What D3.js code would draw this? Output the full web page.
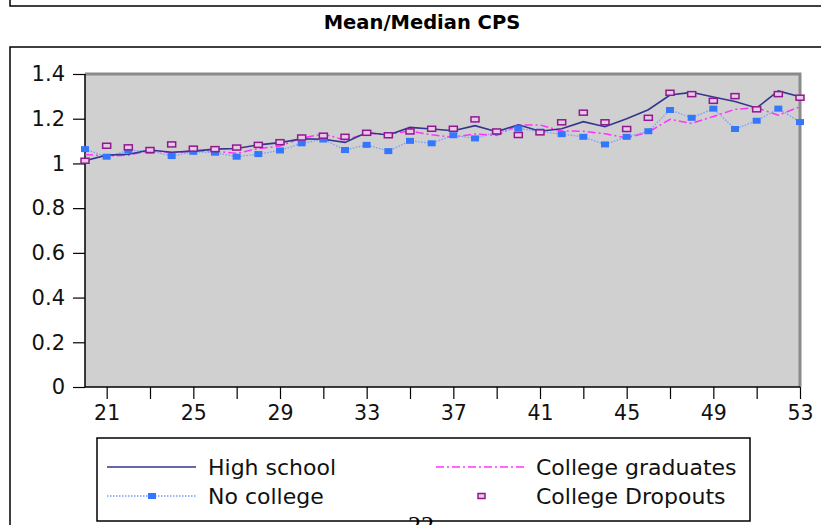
<!DOCTYPE html>
<html><head><meta charset="utf-8">
<script src="https://cdn.jsdelivr.net/npm/d3@7"></script>
<style>body{margin:0;background:#fff}svg{display:block}</style>
</head><body>
<svg id="c" width="821" height="525"></svg>
<script>
const ages = d3.range(20, 54);
const highSchool = [1.012,1.037,1.041,1.060,1.050,1.055,1.064,1.067,1.083,1.093,1.110,1.108,1.094,1.138,1.127,1.161,1.154,1.146,1.169,1.142,1.173,1.144,1.155,1.187,1.164,1.200,1.240,1.306,1.318,1.297,1.277,1.248,1.324,1.298];
const noCollege = [1.064,1.030,1.058,1.057,1.033,1.052,1.048,1.030,1.042,1.058,1.090,1.107,1.060,1.083,1.055,1.101,1.090,1.126,1.112,1.140,1.156,1.142,1.131,1.119,1.085,1.119,1.144,1.239,1.204,1.245,1.154,1.191,1.245,1.185];
const collegeGrads = [1.040,1.033,1.037,1.057,1.048,1.057,1.055,1.045,1.066,1.078,1.114,1.131,1.105,1.134,1.131,1.145,1.128,1.117,1.132,1.125,1.172,1.172,1.145,1.144,1.133,1.114,1.140,1.197,1.179,1.210,1.242,1.249,1.216,1.254];
const dropouts = [1.012,1.079,1.072,1.060,1.085,1.066,1.064,1.071,1.083,1.095,1.116,1.124,1.119,1.137,1.126,1.143,1.155,1.155,1.197,1.143,1.127,1.139,1.184,1.227,1.184,1.154,1.204,1.316,1.310,1.280,1.301,1.242,1.310,1.294];
const yTicks = [0,0.2,0.4,0.6,0.8,1,1.2,1.4];
const xTickMarks = d3.range(21, 54, 2);
const xTickLabels = [21,25,29,33,37,41,45,49,53];
const title = "Mean/Median CPS";
const legendItems = ["High school","No college","College graduates","College Dropouts"];

const svg = d3.select("#c");
const L = 85, R = 800, T = 74, B = 387;
const x = d3.scaleLinear().domain([20,53]).range([L,R]);
const y = d3.scaleLinear().domain([0,1.4]).range([B,T]);
const font = "DejaVu Sans, sans-serif";

// page frames
svg.append("path").attr("d","M10,0 V6 H830").attr("fill","none").attr("stroke","#000").attr("stroke-width",1.5);
svg.append("path").attr("d","M830,47 H10 V530").attr("fill","none").attr("stroke","#000").attr("stroke-width",1.5);

svg.append("text").attr("x",422).attr("y",29).attr("text-anchor","middle")
  .attr("font-family",font).attr("font-weight","bold").attr("font-size",19.5).text(title);

// plot background
svg.append("rect").attr("x",L).attr("y",T).attr("width",R-L).attr("height",B-T).attr("fill","#d0d0d0");
svg.append("path").attr("d",`M${L},${T} H${R} V${B}`).attr("fill","none").attr("stroke","#8a8a8a").attr("stroke-width",3);

// axes
const yAxis = svg.append("g").attr("transform",`translate(${L},0)`)
  .call(d3.axisLeft(y).tickValues(yTicks).tickFormat(d3.format("~g")).tickSize(12).tickPadding(8));
yAxis.select(".domain").attr("stroke","#000").attr("stroke-width",1.5).attr("d",`M0,${T}V${B}`);
yAxis.selectAll("line").attr("stroke","#000").attr("stroke-width",1.2);
yAxis.selectAll("text").attr("font-family",font).attr("font-size",21).attr("fill","#111");

const xAxis = svg.append("g").attr("transform",`translate(0,${B})`)
  .call(d3.axisBottom(x).tickValues(xTickMarks).tickFormat(d => xTickLabels.includes(d) ? d : "").tickSize(12).tickPadding(6));
xAxis.select(".domain").attr("stroke","#000").attr("stroke-width",1.5).attr("d",`M${L},0H${R}`);
xAxis.selectAll("line").attr("stroke","#000").attr("stroke-width",1.2);
xAxis.selectAll("text").attr("font-family",font).attr("font-size",20.5).attr("fill","#111");

const line = d3.line().x((d,i)=>x(ages[i])).y(d=>y(d));

svg.append("path").datum(collegeGrads).attr("d",line).attr("fill","none")
  .attr("stroke","#ff33ff").attr("stroke-width",1.5).attr("stroke-dasharray","8,3,2,3");
svg.append("path").datum(noCollege).attr("d",line).attr("fill","none")
  .attr("stroke","#7a9cff").attr("stroke-width",1.3).attr("stroke-dasharray","1.5,1.5");
svg.append("path").datum(highSchool).attr("d",line).attr("fill","none")
  .attr("stroke","#35358f").attr("stroke-width",1.6);

svg.append("g").selectAll("rect").data(noCollege).join("rect")
  .attr("x",(d,i)=>x(ages[i])-4).attr("y",d=>y(d)-3).attr("width",8).attr("height",6).attr("fill","#3377ff");
svg.append("g").selectAll("rect").data(dropouts).join("rect")
  .attr("x",(d,i)=>x(ages[i])-4).attr("y",d=>y(d)-2.5).attr("width",8).attr("height",5)
  .attr("fill","#e8c8e8").attr("stroke","#8e1a8e").attr("stroke-width",1.5);

// legend
const lg = svg.append("g");
lg.append("rect").attr("x",97).attr("y",438).attr("width",653).attr("height",83).attr("fill","#fff").attr("stroke","#000").attr("stroke-width",1.5);
const r1 = 467, r2 = 496;
lg.append("line").attr("x1",107).attr("x2",196).attr("y1",r1).attr("y2",r1).attr("stroke","#35358f").attr("stroke-width",1.6);
lg.append("line").attr("x1",107).attr("x2",196).attr("y1",r2).attr("y2",r2).attr("stroke","#7a9cff").attr("stroke-width",1.3).attr("stroke-dasharray","1.5,1.5");
lg.append("rect").attr("x",148).attr("y",r2-3).attr("width",8).attr("height",6).attr("fill","#3377ff");
lg.append("line").attr("x1",436).attr("x2",524).attr("y1",r1).attr("y2",r1).attr("stroke","#ff33ff").attr("stroke-width",1.5).attr("stroke-dasharray","8,3,2,3");
lg.append("rect").attr("x",478).attr("y",r2-2.5).attr("width",7).attr("height",5).attr("fill","#e8c8e8").attr("stroke","#8e1a8e").attr("stroke-width",1.5);
const lt = [[208,r1,legendItems[0]],[208,r2,legendItems[1]],[536,r1,legendItems[2]],[536,r2,legendItems[3]]];
lg.selectAll("text").data(lt).join("text").attr("x",d=>d[0]).attr("y",d=>d[1]+8)
  .attr("font-family",font).attr("font-size",22).attr("fill","#111").text(d=>d[2]);

// page number (cut off at the bottom edge, as in the reference)
svg.append("text").attr("x",421).attr("y",534).attr("text-anchor","middle")
  .attr("font-family","Liberation Serif, serif").attr("font-size",26).text("22");
</script>
</body></html>
